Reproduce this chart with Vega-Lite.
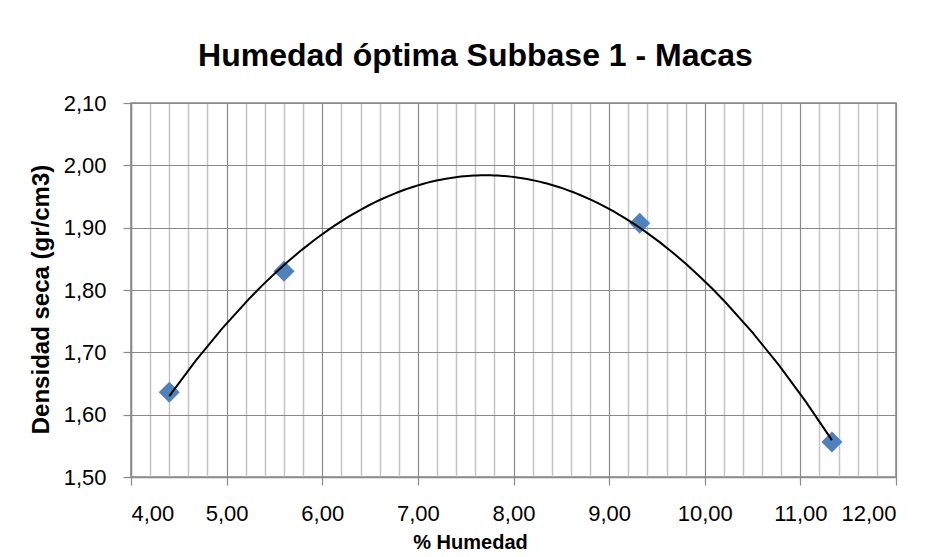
{
  "$schema": "https://vega.github.io/schema/vega-lite/v6.json",
  "autosize": "none",
  "width": 765,
  "height": 374,
  "padding": {"left": 131, "top": 103, "right": 32, "bottom": 80},
  "background": "white",
  "config": {
    "locale": {"number": {"decimal": ",", "thousands": ".", "grouping": [3], "currency": ["", " €"]}},
    "view": {"stroke": "#8a8a8a", "strokeWidth": 1.5},
    "font": "Liberation Sans"
  },
  "title": {
    "text": "Humedad óptima Subbase 1 - Macas",
    "font": "Liberation Sans",
    "fontSize": 32,
    "fontWeight": "bold",
    "color": "#000000",
    "frame": "group",
    "anchor": "middle",
    "dx": -38,
    "baseline": "alphabetic",
    "offset": -6
  },
  "data": {
    "values": [
      {"h": 4.40, "d": 1.636},
      {"h": 5.60, "d": 1.830},
      {"h": 9.32, "d": 1.907},
      {"h": 11.33, "d": 1.556}
    ]
  },
  "resolve": {"axis": {"x": "independent"}},
  "layer": [
    {
      "mark": {"type": "point", "shape": "diamond", "filled": true, "size": 440, "color": "#4f81bd", "opacity": 1},
      "encoding": {
        "x": {
          "field": "h", "type": "quantitative",
          "scale": {"domain": [4, 12], "nice": false, "zero": false},
          "axis": {
            "orient": "bottom",
            "values": [4.2,4.4,4.6,4.8,5.2,5.4,5.6,5.8,6.2,6.4,6.6,6.8,7.2,7.4,7.6,7.8,8.2,8.4,8.6,8.8,9.2,9.4,9.6,9.8,10.2,10.4,10.6,10.8,11.2,11.4,11.6,11.8],
            "labels": false, "ticks": false, "domain": false, "title": null,
            "grid": true, "gridColor": "#c4c4c4", "gridWidth": 1.5
          }
        },
        "y": {
          "field": "d", "type": "quantitative",
          "scale": {"domain": [1.5, 2.1], "nice": false, "zero": false},
          "axis": {
            "values": [1.5, 1.6, 1.7, 1.8, 1.9, 2.0, 2.1],
            "format": ".2f",
            "grid": true, "gridColor": "#8a8a8a", "gridWidth": 1.2,
            "domainColor": "#8a8a8a", "domainWidth": 1.5,
            "tickColor": "#8a8a8a", "tickSize": 8, "tickWidth": 1.2,
            "labelFont": "Liberation Sans", "labelFontSize": 22, "labelColor": "#000000",
            "labelPadding": 17,
            "title": "Densidad seca (gr/cm3)",
            "titleFont": "Liberation Sans", "titleFontSize": 24, "titleFontWeight": "bold", "titleColor": "#000000",
            "titlePadding": 10,
            "titleY": 196
          }
        }
      }
    },
    {
      "transform": [{"regression": "d", "on": "h", "method": "poly", "order": 2}],
      "mark": {"type": "line", "color": "#000000", "strokeWidth": 2},
      "encoding": {
        "x": {
          "field": "h", "type": "quantitative",
          "axis": {
            "orient": "bottom",
            "values": [4, 5, 6, 7, 8, 9, 10, 11, 12],
            "format": ".2f",
            "grid": true, "gridColor": "#8a8a8a", "gridWidth": 1.2,
            "domainColor": "#8a8a8a", "domainWidth": 1.5,
            "tickColor": "#8a8a8a", "tickSize": 8, "tickWidth": 1.2,
            "labelFont": "Liberation Sans", "labelFontSize": 22, "labelColor": "#000000",
            "labelPadding": 18,
            "title": "% Humedad",
            "titleFont": "Liberation Sans", "titleFontSize": 20, "titleFontWeight": "bold", "titleColor": "#000000",
            "titlePadding": 8,
            "titleX": 339
          }
        },
        "y": {"field": "d", "type": "quantitative"}
      }
    }
  ]
}
